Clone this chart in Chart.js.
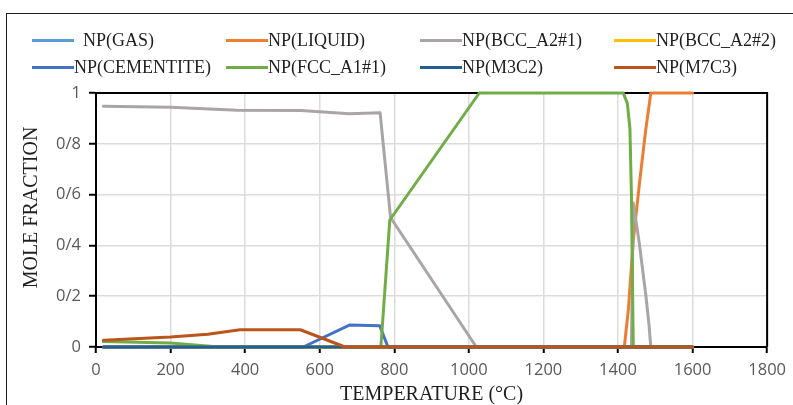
<!DOCTYPE html>
<html>
<head>
<meta charset="utf-8">
<script src="https://cdn.jsdelivr.net/npm/chart.js@4/dist/chart.umd.min.js"></script>
<style>
  body { margin: 0; background: #fff; }
  #wrap { position: relative; width: 793px; height: 405px; overflow: hidden; background: #fff; }
  #frame { position: absolute; left: 6px; top: 13px; width: 800px; height: 400px; border: 1.5px solid #1e1e1e; }
  #chart { position: absolute; left: 0; top: 0; }
  #legend {
    position: absolute; left: 32px; top: 27px;
    display: grid; grid-template-columns: repeat(4, 194px);
    font: 18px "Liberation Serif", serif; color: #1e1e1e;
  }
  .item { display: flex; align-items: center; height: 27px; white-space: pre; }
  .swatch { width: 42px; height: 3px; flex: none; }
</style>
</head>
<body>
<div id="wrap">
  <div id="frame"></div>
  <canvas id="chart" width="793" height="405"></canvas>
  <div id="legend"></div>
</div>
<script>
// phase mole fractions vs temperature (°C)
const gasT = [20, 1600];
const gasY = [0, 0];
const liquidT = [20, 1417, 1428, 1441, 1458, 1474, 1488, 1600];
const liquidY = [0, 0, 0.15, 0.42, 0.65, 0.85, 1, 1];
const bcc1T = [20, 200, 380, 550, 680, 762, 790, 1020, 1436, 1441, 1457, 1475, 1483, 1488, 1600];
const bcc1Y = [0.948, 0.944, 0.932, 0.931, 0.918, 0.922, 0.51, 0, 0, 0.567, 0.41, 0.2, 0.09, 0, 0];
const bcc2T = [20, 1600];
const bcc2Y = [0, 0];
const cementiteT = [20, 556, 681, 761, 783, 1600];
const cementiteY = [0, 0, 0.087, 0.084, 0, 0];
const fccT = [20, 200, 330, 764, 788, 1028, 1414, 1425, 1432, 1436, 1441, 1600];
const fccY = [0.022, 0.016, 0, 0, 0.5, 1, 1, 0.96, 0.86, 0.6, 0, 0];
const m3c2T = [20, 1600];
const m3c2Y = [0, 0];
const m7c3T = [20, 200, 300, 386, 548, 668, 1600];
const m7c3Y = [0.027, 0.039, 0.05, 0.068, 0.068, 0, 0];

const phaseNames = ['NP(GAS)', 'NP(LIQUID)', 'NP(BCC_A2#1)', 'NP(BCC_A2#2)',
                    'NP(CEMENTITE)', 'NP(FCC_A1#1)', 'NP(M3C2)', 'NP(M7C3)'];
const phaseColors = ['#5B9BD5', '#ED7D31', '#A9A5A5', '#FFC000',
                     '#4472C4', '#70AD47', '#255E91', '#BA561B'];
const phaseT = [gasT, liquidT, bcc1T, bcc2T, cementiteT, fccT, m3c2T, m7c3T];
const phaseY = [gasY, liquidY, bcc1Y, bcc2Y, cementiteY, fccY, m3c2Y, m7c3Y];

const yTickLabels = ['0', '0/2', '0/4', '0/6', '0/8', '1'];

const datasets = phaseNames.map((name, i) => ({
    label: name,
    data: phaseT[i].map((t, k) => ({ x: t, y: phaseY[i][k] })),
    borderColor: phaseColors[i],
    backgroundColor: phaseColors[i],
    borderWidth: 3,
    pointRadius: 0,
    tension: 0,
    borderJoinStyle: 'round',
    borderCapStyle: 'round',
    clip: false,
    order: phaseNames.length - i   // later series end up on top
}));

// black frame on top/right of the plot area
const plotFrame = {
    id: 'plotFrame',
    beforeDatasetsDraw(chart) {
        const { ctx, chartArea: a } = chart;
        ctx.save();
        ctx.strokeStyle = '#000';
        ctx.lineWidth = 2;
        ctx.beginPath();
        ctx.moveTo(a.left, a.top);
        ctx.lineTo(a.right, a.top);
        ctx.lineTo(a.right, a.bottom);
        ctx.stroke();
        ctx.restore();
    }
};

const tickFont = { family: '"Open Sans", sans-serif', size: 16.5 };
const titleFont = { family: '"Liberation Serif", serif', size: 20, lineHeight: 1 };

new Chart(document.getElementById('chart'), {
    type: 'line',
    data: { datasets },
    options: {
        responsive: false,
        animation: false,
        devicePixelRatio: 1,
        layout: { padding: { top: 93, right: 21, left: 0, bottom: 0 } },
        plugins: { legend: { display: false }, tooltip: { enabled: false } },
        scales: {
            x: {
                type: 'linear', min: 0, max: 1800,
                ticks: {
                    stepSize: 200, font: tickFont, color: '#595959', padding: 7, maxRotation: 0,
                    callback: v => String(v)
                },
                grid: { color: '#dcdcdc', lineWidth: 1.5, tickLength: 6, tickColor: '#000', tickWidth: 2 },
                border: { color: '#000', width: 2 },
                title: { display: true, text: 'TEMPERATURE (°C)', font: titleFont, color: '#1e1e1e', padding: 0 },
                afterFit(s) { s.height = 58; }
            },
            y: {
                min: 0, max: 1,
                ticks: {
                    stepSize: 0.2, font: tickFont, color: '#595959', padding: 8,
                    callback: (v, i) => yTickLabels[i]
                },
                grid: { color: '#dcdcdc', lineWidth: 1.5, tickLength: 7, tickColor: '#000', tickWidth: 2 },
                border: { color: '#000', width: 2 },
                // leading spaces nudge the rotated title up a little
                title: { display: true, text: '     MOLE FRACTION', font: titleFont, color: '#1e1e1e', padding: { top: 22, bottom: 0 } },
                afterFit(s) { s.width = 96; }
            }
        }
    },
    plugins: [plotFrame]
});

// legend grid, two rows of four
const legend = document.getElementById('legend');
phaseNames.forEach((name, i) => {
    const item = document.createElement('div');
    item.className = 'item';
    const sw = document.createElement('span');
    sw.className = 'swatch';
    sw.style.background = phaseColors[i];
    const label = document.createElement('span');
    label.textContent = (i === 0 ? '  ' : '') + name;
    item.appendChild(sw);
    item.appendChild(label);
    legend.appendChild(item);
});
</script>
</body>
</html>
